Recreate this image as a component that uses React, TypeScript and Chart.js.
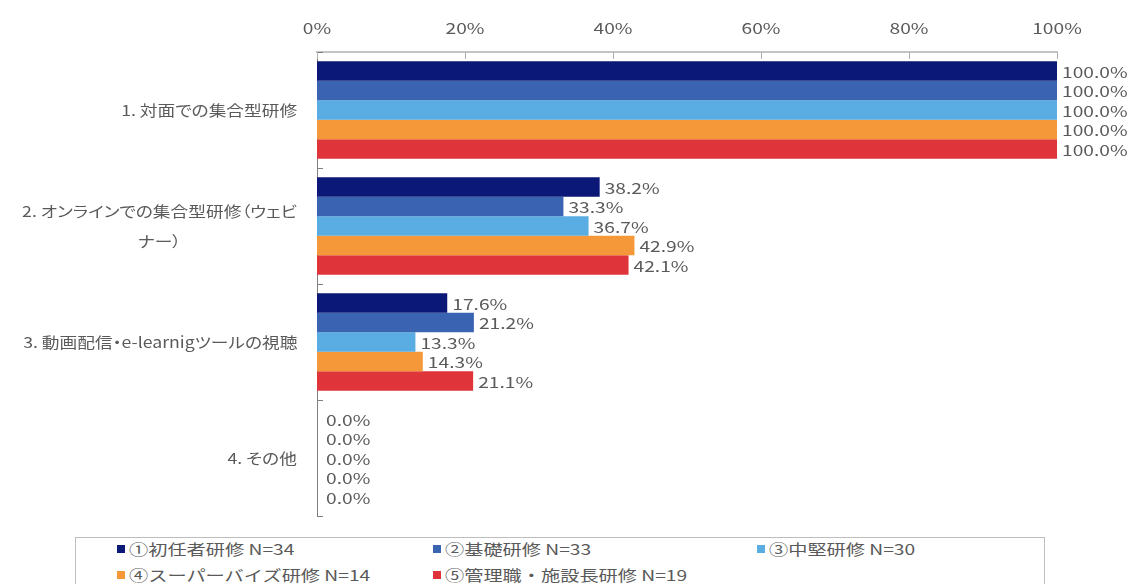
import React, { useEffect, useRef, useState } from "react";
import { Chart, registerables } from "chart.js";

Chart.register(...registerables);

const categories: string[][] = [
  ["1. 対面での集合型研修"],
  ["2. オンラインでの集合型研修（ウェビ", "ナー）"],
  ["3. 動画配信・e-learnigツールの視聴"],
  ["4. その他"],
];

const seriesNames = [
  "①初任者研修 N=34",
  "②基礎研修 N=33",
  "③中堅研修 N=30",
  "④スーパーバイズ研修 N=14",
  "⑤管理職・施設長研修 N=19",
];

const s1 = [100.0, 38.2, 17.6, 0.0];
const s2 = [100.0, 33.3, 21.2, 0.0];
const s3 = [100.0, 36.7, 13.3, 0.0];
const s4 = [100.0, 42.9, 14.3, 0.0];
const s5 = [100.0, 42.1, 21.1, 0.0];
const seriesValues = [s1, s2, s3, s4, s5];

const colors = ["#0B1877", "#3A63B2", "#5AADE2", "#F4983A", "#DF343A"];

const xTicks = [0, 20, 40, 60, 80, 100];

const FONT = '"Noto Sans CJK JP", "Noto Sans", sans-serif';
const TEXT = "#5a5a5a";
const SX = 1.28;
const SX_CAT = 1.18;

function drawText(ctx: any, text: string, x: number, y: number, align: string, sx: number = SX) {
  ctx.save();
  ctx.translate(x, y);
  ctx.scale(sx, 1);
  ctx.textAlign = align;
  ctx.fillText(text, 0, 0);
  ctx.restore();
}

const overlay = {
  id: "overlay",
  afterDatasetsDraw(chart: any) {
    const ctx = chart.ctx;
    const yScale = chart.scales.y;
    const xScale = chart.scales.x;
    const area = chart.chartArea;
    ctx.save();
    ctx.font = `15px ${FONT}`;
    ctx.fillStyle = TEXT;
    ctx.textBaseline = "middle";
    // x tick labels
    xTicks.forEach((t) => {
      drawText(ctx, `${t}%`, xScale.getPixelForValue(t), 28, "center");
    });
    // data labels
    chart.data.datasets.forEach((ds: any, di: number) => {
      const meta = chart.getDatasetMeta(di);
      meta.data.forEach((bar: any, i: number) => {
        const v = ds.data[i];
        const x = v === 0 ? bar.x + 9 : bar.x + 5;
        drawText(ctx, `${v.toFixed(1)}%`, x, bar.y + 1, "left");
      });
    });
    // y inner ticks at category boundaries
    ctx.strokeStyle = "#7f7f7f";
    ctx.lineWidth = 1;
    for (let i = 0; i <= categories.length; i++) {
      const y = Math.round(yScale.getPixelForValue(i - 0.5)) + 0.5;
      ctx.beginPath();
      ctx.moveTo(area.left, y);
      ctx.lineTo(area.left + 6, y);
      ctx.stroke();
    }
    // x inner ticks
    ctx.strokeStyle = "#b0b0b0";
    xTicks.forEach((t) => {
      const x = Math.round(xScale.getPixelForValue(t)) + 0.5;
      ctx.beginPath();
      ctx.moveTo(x, area.top);
      ctx.lineTo(x, area.top + 7);
      ctx.stroke();
    });
    ctx.restore();
  },
};

export default function App() {
  const ref = useRef<HTMLCanvasElement | null>(null);
  const [labelPos, setLabelPos] = useState<{ y: number; right: number }[]>([]);

  useEffect(() => {
    if (!ref.current) return;
    const chart = new Chart(ref.current, {
      type: "bar",
      data: {
        labels: categories.map((c) => c.join("")),
        datasets: seriesValues.map((vals, i) => ({
          label: seriesNames[i],
          data: vals,
          backgroundColor: colors[i],
          borderWidth: 0,
          categoryPercentage: 0.84,
          barPercentage: 1.0,
        })),
      },
      options: {
        indexAxis: "y",
        animation: false,
        responsive: false,
        devicePixelRatio: 1,
        layout: { padding: { left: 317, right: 75, top: 0, bottom: 14 } },
        plugins: {
          legend: { display: false },
          tooltip: { enabled: false },
        },
        scales: {
          x: {
            position: "top",
            min: 0,
            max: 100,
            afterBuildTicks: (s: any) => {
              s.ticks = xTicks.map((v) => ({ value: v }));
            },
            afterFit: (s: any) => {
              s.height = 52;
            },
            ticks: { display: false },
            grid: { display: false },
            border: { display: true, color: "#c4c4c4", width: 2 },
          },
          y: {
            offset: true,
            ticks: { display: false },
            grid: { display: false },
            border: { display: true, color: "#7f7f7f", width: 1 },
            afterFit: (s: any) => {
              s.width = 0;
            },
          },
        },
      } as any,
      plugins: [overlay],
    });
    const ys = chart.scales.y as any;
    setLabelPos(
      categories.map((_, i) => ({
        y: ys.getPixelForValue(i),
        right: chart.chartArea.left - 20,
      }))
    );
    return () => chart.destroy();
  }, []);

  const colPos = [117, 433, 757];
  return (
    <div
      style={{
        position: "absolute",
        left: 0,
        top: 0,
        width: 1132,
        height: 584,
        background: "#fff",
        overflow: "hidden",
        fontFamily: FONT,
      }}
    >
      <canvas ref={ref} width={1132} height={530} style={{ display: "block" }} />
      {labelPos.map((p, i) => (
        <div
          key={i}
          style={{
            position: "absolute",
            right: 1132 - p.right,
            top: p.y,
            transform: `translateY(-50%) scaleX(${SX_CAT})`,
            transformOrigin: "right center",
            textAlign: "center",
            lineHeight: "30px",
            fontSize: 15,
            color: TEXT,
            whiteSpace: "nowrap",
            fontFeatureSettings: '"palt"',
          }}
        >
          {categories[i].map((l, j) => (
            <div key={j}>{l}</div>
          ))}
        </div>
      ))}
      <div
        style={{
          position: "absolute",
          left: 75,
          top: 537,
          width: 970,
          height: 56,
          border: "1px solid #bdbdbd",
          boxSizing: "border-box",
        }}
      />
      {seriesNames.map((n, i) => {
        const col = i % 3;
        const row = Math.floor(i / 3);
        const cy = 549 + row * 26;
        return (
          <React.Fragment key={n}>
            <span
              style={{
                position: "absolute",
                left: colPos[col],
                top: cy - 4,
                width: 8,
                height: 8,
                background: colors[i],
              }}
            />
            <span
              style={{
                position: "absolute",
                left: colPos[col] + 12,
                top: cy - 11,
                height: 22,
                lineHeight: "22px",
                fontSize: 15,
                color: TEXT,
                whiteSpace: "nowrap",
                transform: `scaleX(${SX})`,
                transformOrigin: "left center",
              }}
            >
              {n}
            </span>
          </React.Fragment>
        );
      })}
    </div>
  );
}
